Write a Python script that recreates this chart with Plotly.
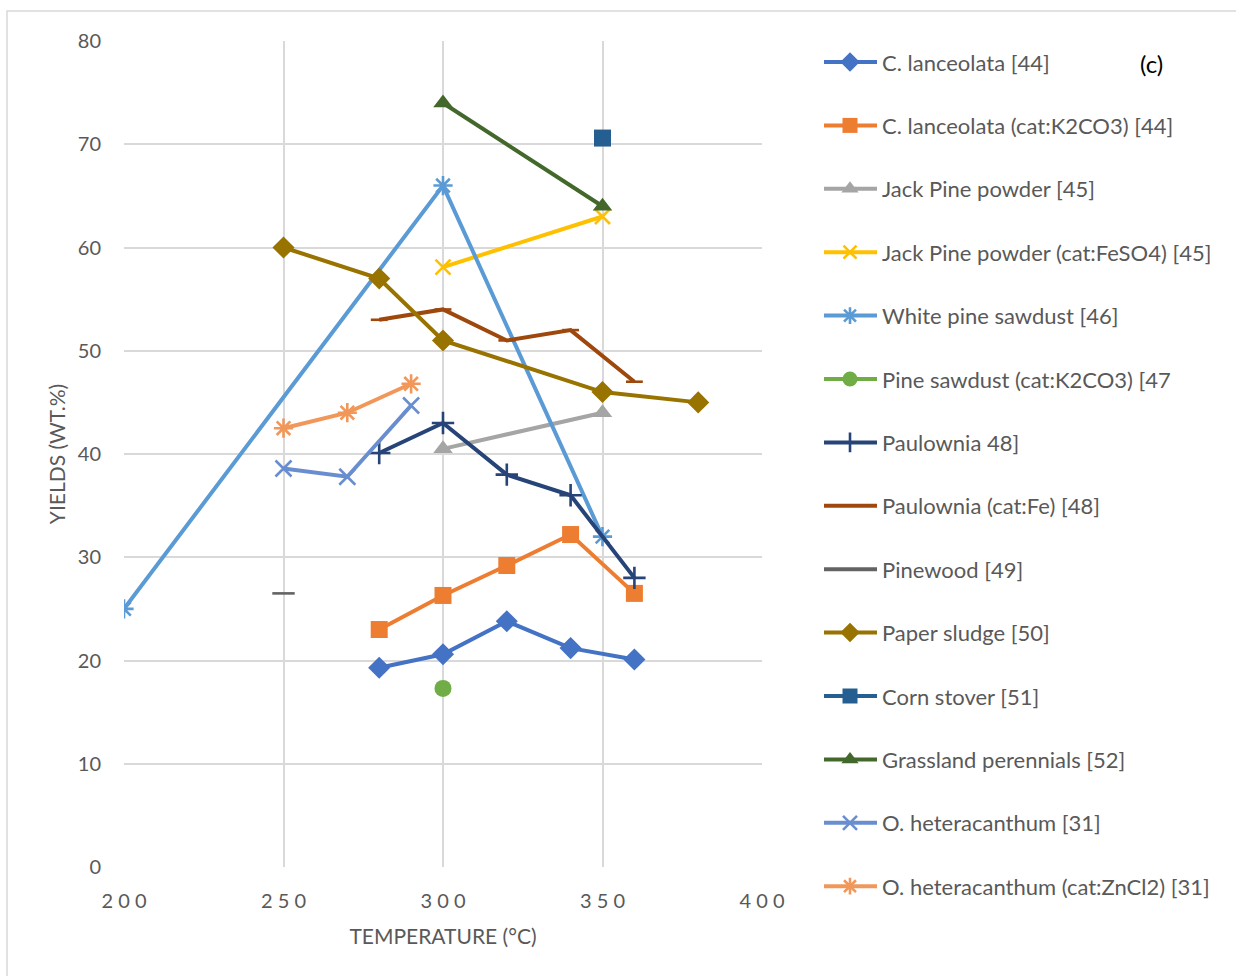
import plotly.graph_objects as go

# Bio-oil yields (wt.%) versus liquefaction temperature (°C)
c_lanceolata_t = [280, 300, 320, 340, 360]
c_lanceolata_y = [19.3, 20.6, 23.8, 21.2, 20.1]

c_lanceolata_k2co3_t = [280, 300, 320, 340, 360]
c_lanceolata_k2co3_y = [23.0, 26.3, 29.2, 32.2, 26.5]

jack_pine_t = [300, 350]
jack_pine_y = [40.5, 44.0]

jack_pine_feso4_t = [300, 350]
jack_pine_feso4_y = [58.1, 63.0]

white_pine_t = [200, 300, 350]
white_pine_y = [25.0, 66.0, 32.0]

pine_sawdust_k2co3_t = [300]
pine_sawdust_k2co3_y = [17.3]

paulownia_t = [280, 300, 320, 340, 360]
paulownia_y = [40.1, 43.0, 38.0, 36.0, 28.0]

paulownia_fe_t = [280, 300, 320, 340, 360]
paulownia_fe_y = [53.0, 54.0, 51.0, 52.0, 47.0]

pinewood_t = [250]
pinewood_y = [26.5]

paper_sludge_t = [250, 280, 300, 350, 380]
paper_sludge_y = [60.0, 57.0, 51.0, 46.0, 45.0]

corn_stover_t = [350]
corn_stover_y = [70.6]

grassland_t = [300, 350]
grassland_y = [74.0, 64.0]

o_het_t = [250, 270, 290]
o_het_y = [38.6, 37.8, 44.7]

o_het_zncl2_t = [250, 270, 290]
o_het_zncl2_y = [42.5, 44.0, 46.8]

x_ticks = [200, 250, 300, 350, 400]
x_tick_text = ["2 0 0", "2 5 0", "3 0 0", "3 5 0", "4 0 0"]
y_ticks = [0, 10, 20, 30, 40, 50, 60, 70, 80]

series = [
    ("C. lanceolata [44]", c_lanceolata_t, c_lanceolata_y, "#4472C4", "diamond", 17),
    ("C. lanceolata (cat:K2CO3) [44]", c_lanceolata_k2co3_t, c_lanceolata_k2co3_y, "#ED7D31", "square", 17),
    ("Jack Pine powder [45]", jack_pine_t, jack_pine_y, "#A5A5A5", "triangle-up", 17),
    ("Jack Pine powder (cat:FeSO4) [45]", jack_pine_feso4_t, jack_pine_feso4_y, "#FFC000", "x-thin", 15),
    ("White pine sawdust [46]", white_pine_t, white_pine_y, "#5B9BD5", "asterisk", 16),
    ("Pine sawdust (cat:K2CO3) [47", pine_sawdust_k2co3_t, pine_sawdust_k2co3_y, "#70AD47", "circle", 17),
    ("Paulownia 48]", paulownia_t, paulownia_y, "#264478", "cross-thin", 16),
    ("Paulownia (cat:Fe) [48]", paulownia_fe_t, paulownia_fe_y, "#9E480E", "line-ew", 12),
    ("Pinewood [49]", pinewood_t, pinewood_y, "#636363", "line-ew", 16),
    ("Paper sludge [50]", paper_sludge_t, paper_sludge_y, "#997300", "diamond", 17),
    ("Corn stover [51]", corn_stover_t, corn_stover_y, "#255E91", "square", 17),
    ("Grassland perennials [52]", grassland_t, grassland_y, "#43682B", "triangle-up", 17),
    ("O. heteracanthum [31]", o_het_t, o_het_y, "#698ED0", "x-thin", 16),
    ("O. heteracanthum (cat:ZnCl2) [31]", o_het_zncl2_t, o_het_zncl2_y, "#F1975A", "asterisk", 16),
]

W, H = 1236, 976
# plot-area edges in page pixels
PL, PR, PT, PB = 124, 762, 41, 867

# legend layout in page pixels (drawn on a pixel-scaled overlay axis)
LEG_LINE_X0, LEG_LINE_X1, LEG_MARK_X, LEG_TEXT_X = 824, 877, 850, 880
LEG_Y0, LEG_DY = 62, 63.4

fig = go.Figure()


def marker_style(color, symbol, size):
    thin = symbol in ("x-thin", "asterisk", "cross-thin", "line-ew")
    return dict(symbol=symbol, size=size, color=color,
                line=dict(color=color, width=2.6 if thin else 0))


for name, xs, ys, color, symbol, size in series:
    fig.add_trace(go.Scatter(
        x=xs, y=ys, name=name, mode="lines+markers", showlegend=False,
        line=dict(color=color, width=4),
        marker=marker_style(color, symbol, size),
    ))

annotations = []
for i, (name, xs, ys, color, symbol, size) in enumerate(series):
    ly = LEG_Y0 + i * LEG_DY
    fig.add_trace(go.Scatter(
        x=[LEG_LINE_X0, LEG_LINE_X1], y=[ly, ly], mode="lines",
        xaxis="x2", yaxis="y2", showlegend=False, hoverinfo="skip",
        line=dict(color=color, width=4),
    ))
    if symbol != "line-ew":
        fig.add_trace(go.Scatter(
            x=[LEG_MARK_X], y=[ly], mode="markers",
            xaxis="x2", yaxis="y2", showlegend=False, hoverinfo="skip",
            marker=marker_style(color, symbol, size - 2),
        ))
    annotations.append(dict(
        text=name, x=LEG_TEXT_X, y=ly, xref="x2", yref="y2",
        xanchor="left", yanchor="middle", showarrow=False,
        font=dict(family="Lato, sans-serif", size=22, color="#595959"),
    ))

annotations.append(dict(
    text="(c)", x=1151, y=63, xref="x2", yref="y2",
    xanchor="center", yanchor="middle", showarrow=False,
    font=dict(family="Lato, sans-serif", size=24, color="black"),
))

grid = "#D9D9D9"
fig.update_layout(
    width=W, height=H,
    margin=dict(l=0, r=0, t=0, b=0, autoexpand=False),
    paper_bgcolor="white", plot_bgcolor="rgba(0,0,0,0)",
    font=dict(family="Lato, sans-serif", color="#595959"),
    showlegend=False,
    xaxis=dict(
        domain=[PL / W, PR / W], anchor="y", automargin=False,
        range=[200, 400], tickvals=x_ticks, ticktext=x_tick_text,
        showgrid=True, gridcolor=grid, gridwidth=2,
        zeroline=False, showline=False, ticks="", ticklabelstandoff=20,
        tickfont=dict(size=20, color="#595959"),
        title=dict(text="TEMPERATURE (°C)", font=dict(size=21, color="#595959"), standoff=18),
    ),
    yaxis=dict(
        domain=[(H - PB) / H, (H - PT) / H], anchor="x", automargin=False,
        range=[0, 80], tickvals=y_ticks,
        showgrid=True, gridcolor=grid, gridwidth=2,
        zeroline=False, showline=False, ticks="", ticklabelstandoff=22,
        tickfont=dict(size=20, color="#595959"),
        title=dict(text="YIELDS (WT.%)", font=dict(size=21, color="#595959"), standoff=6),
    ),
    xaxis2=dict(domain=[0, 1], anchor="y2", range=[0, W], visible=False,
                fixedrange=True, automargin=False),
    yaxis2=dict(domain=[0, 1], anchor="x2", range=[H, 0], visible=False,
                fixedrange=True, automargin=False),
    shapes=[dict(type="rect", xref="x2", yref="y2",
                 x0=7, x1=W + 5, y0=11, y1=H + 5,
                 line=dict(color="#D9D9D9", width=1.5), fillcolor="rgba(0,0,0,0)", layer="below")],
    annotations=annotations,
)

fig.write_html("out.html")
